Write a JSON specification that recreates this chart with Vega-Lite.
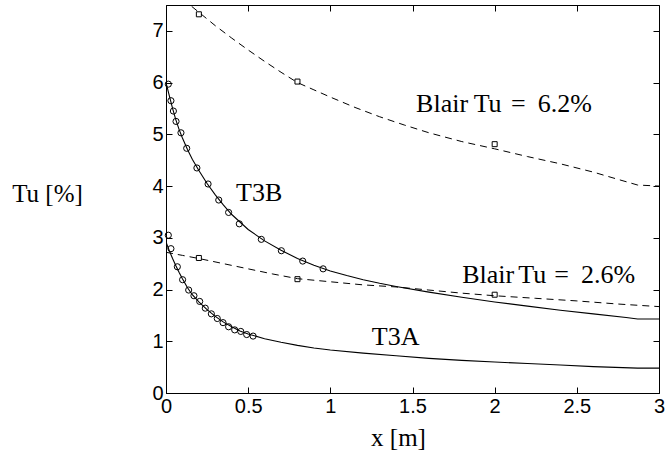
{
  "$schema": "https://vega.github.io/schema/vega-lite/v6.json",
  "width": 493,
  "height": 388,
  "autosize": "none",
  "padding": {"left": 166, "top": 5, "right": 6, "bottom": 77},
  "background": "white",
  "config": {
    "view": {"stroke": "black", "strokeWidth": 1},
    "axis": {"grid": false, "domainColor": "black", "tickColor": "black", "labelColor": "black", "titleColor": "black", "tickWidth": 1, "domainWidth": 1, "labelFont": "Liberation Sans", "labelFontSize": 20}
  },
  "datasets": {
    "curves": [
      {"series": "T3B", "x": 0, "y": 6.0}, {"series": "T3B", "x": 0.02, "y": 5.75}, {"series": "T3B", "x": 0.04, "y": 5.5}, {"series": "T3B", "x": 0.06, "y": 5.28}, {"series": "T3B", "x": 0.08, "y": 5.09}, {"series": "T3B", "x": 0.1, "y": 4.93}, {"series": "T3B", "x": 0.13, "y": 4.71}, {"series": "T3B", "x": 0.16, "y": 4.52}, {"series": "T3B", "x": 0.2, "y": 4.3}, {"series": "T3B", "x": 0.25, "y": 4.05}, {"series": "T3B", "x": 0.3, "y": 3.83}, {"series": "T3B", "x": 0.35, "y": 3.63}, {"series": "T3B", "x": 0.4, "y": 3.45}, {"series": "T3B", "x": 0.5, "y": 3.16}, {"series": "T3B", "x": 0.6, "y": 2.94}, {"series": "T3B", "x": 0.7, "y": 2.76}, {"series": "T3B", "x": 0.8, "y": 2.6}, {"series": "T3B", "x": 0.9, "y": 2.47}, {"series": "T3B", "x": 1.0, "y": 2.36}, {"series": "T3B", "x": 1.1, "y": 2.27}, {"series": "T3B", "x": 1.2, "y": 2.19}, {"series": "T3B", "x": 1.3, "y": 2.12}, {"series": "T3B", "x": 1.4, "y": 2.06}, {"series": "T3B", "x": 1.6, "y": 1.95}, {"series": "T3B", "x": 1.8, "y": 1.85}, {"series": "T3B", "x": 2.0, "y": 1.76}, {"series": "T3B", "x": 2.2, "y": 1.68}, {"series": "T3B", "x": 2.4, "y": 1.6}, {"series": "T3B", "x": 2.6, "y": 1.53}, {"series": "T3B", "x": 2.8, "y": 1.46}, {"series": "T3B", "x": 2.87, "y": 1.43}, {"series": "T3B", "x": 3.0, "y": 1.43},
      {"series": "T3A", "x": 0, "y": 2.92}, {"series": "T3A", "x": 0.02, "y": 2.75}, {"series": "T3A", "x": 0.04, "y": 2.6}, {"series": "T3A", "x": 0.06, "y": 2.46}, {"series": "T3A", "x": 0.08, "y": 2.33}, {"series": "T3A", "x": 0.1, "y": 2.21}, {"series": "T3A", "x": 0.13, "y": 2.04}, {"series": "T3A", "x": 0.16, "y": 1.9}, {"series": "T3A", "x": 0.2, "y": 1.76}, {"series": "T3A", "x": 0.25, "y": 1.61}, {"series": "T3A", "x": 0.3, "y": 1.48}, {"series": "T3A", "x": 0.35, "y": 1.37}, {"series": "T3A", "x": 0.4, "y": 1.28}, {"series": "T3A", "x": 0.45, "y": 1.2}, {"series": "T3A", "x": 0.5, "y": 1.14}, {"series": "T3A", "x": 0.6, "y": 1.05}, {"series": "T3A", "x": 0.7, "y": 0.98}, {"series": "T3A", "x": 0.8, "y": 0.92}, {"series": "T3A", "x": 0.9, "y": 0.87}, {"series": "T3A", "x": 1.0, "y": 0.83}, {"series": "T3A", "x": 1.2, "y": 0.77}, {"series": "T3A", "x": 1.4, "y": 0.72}, {"series": "T3A", "x": 1.6, "y": 0.67}, {"series": "T3A", "x": 1.8, "y": 0.63}, {"series": "T3A", "x": 2.0, "y": 0.6}, {"series": "T3A", "x": 2.2, "y": 0.57}, {"series": "T3A", "x": 2.4, "y": 0.54}, {"series": "T3A", "x": 2.6, "y": 0.51}, {"series": "T3A", "x": 2.87, "y": 0.48}, {"series": "T3A", "x": 3.0, "y": 0.48}
    ],
    "blair": [
      {"series": "B62", "x": 0.1, "y": 7.62}, {"series": "B62", "x": 0.146, "y": 7.5}, {"series": "B62", "x": 0.2, "y": 7.36}, {"series": "B62", "x": 0.3, "y": 7.1}, {"series": "B62", "x": 0.4, "y": 6.86}, {"series": "B62", "x": 0.5, "y": 6.63}, {"series": "B62", "x": 0.6, "y": 6.41}, {"series": "B62", "x": 0.7, "y": 6.2}, {"series": "B62", "x": 0.8, "y": 6.0}, {"series": "B62", "x": 0.9, "y": 5.86}, {"series": "B62", "x": 1.0, "y": 5.72}, {"series": "B62", "x": 1.15, "y": 5.52}, {"series": "B62", "x": 1.3, "y": 5.34}, {"series": "B62", "x": 1.45, "y": 5.18}, {"series": "B62", "x": 1.6, "y": 5.03}, {"series": "B62", "x": 1.8, "y": 4.86}, {"series": "B62", "x": 2.0, "y": 4.72}, {"series": "B62", "x": 2.2, "y": 4.57}, {"series": "B62", "x": 2.4, "y": 4.43}, {"series": "B62", "x": 2.6, "y": 4.27}, {"series": "B62", "x": 2.75, "y": 4.13}, {"series": "B62", "x": 2.87, "y": 4.02}, {"series": "B62", "x": 3.0, "y": 4.0},
      {"series": "B26", "x": 0.0, "y": 2.72}, {"series": "B26", "x": 0.1, "y": 2.66}, {"series": "B26", "x": 0.2, "y": 2.6}, {"series": "B26", "x": 0.35, "y": 2.5}, {"series": "B26", "x": 0.5, "y": 2.4}, {"series": "B26", "x": 0.65, "y": 2.3}, {"series": "B26", "x": 0.8, "y": 2.21}, {"series": "B26", "x": 1.0, "y": 2.15}, {"series": "B26", "x": 1.2, "y": 2.09}, {"series": "B26", "x": 1.4, "y": 2.05}, {"series": "B26", "x": 1.6, "y": 1.99}, {"series": "B26", "x": 1.8, "y": 1.93}, {"series": "B26", "x": 2.0, "y": 1.88}, {"series": "B26", "x": 2.25, "y": 1.83}, {"series": "B26", "x": 2.5, "y": 1.78}, {"series": "B26", "x": 2.75, "y": 1.72}, {"series": "B26", "x": 3.0, "y": 1.67}
    ],
    "circles": [
      {"series": "T3B", "x": 0.014, "y": 5.97}, {"series": "T3B", "x": 0.03, "y": 5.65}, {"series": "T3B", "x": 0.045, "y": 5.45}, {"series": "T3B", "x": 0.061, "y": 5.25}, {"series": "T3B", "x": 0.091, "y": 5.03}, {"series": "T3B", "x": 0.126, "y": 4.73}, {"series": "T3B", "x": 0.188, "y": 4.35}, {"series": "T3B", "x": 0.256, "y": 4.04}, {"series": "T3B", "x": 0.321, "y": 3.73}, {"series": "T3B", "x": 0.381, "y": 3.49}, {"series": "T3B", "x": 0.446, "y": 3.27}, {"series": "T3B", "x": 0.58, "y": 2.97}, {"series": "T3B", "x": 0.702, "y": 2.75}, {"series": "T3B", "x": 0.832, "y": 2.55}, {"series": "T3B", "x": 0.956, "y": 2.4},
      {"series": "T3A", "x": 0.014, "y": 3.05}, {"series": "T3A", "x": 0.03, "y": 2.79}, {"series": "T3A", "x": 0.069, "y": 2.44}, {"series": "T3A", "x": 0.101, "y": 2.19}, {"series": "T3A", "x": 0.138, "y": 1.99}, {"series": "T3A", "x": 0.17, "y": 1.88}, {"series": "T3A", "x": 0.205, "y": 1.77}, {"series": "T3A", "x": 0.239, "y": 1.64}, {"series": "T3A", "x": 0.276, "y": 1.53}, {"series": "T3A", "x": 0.312, "y": 1.44}, {"series": "T3A", "x": 0.347, "y": 1.36}, {"series": "T3A", "x": 0.381, "y": 1.28}, {"series": "T3A", "x": 0.418, "y": 1.22}, {"series": "T3A", "x": 0.455, "y": 1.19}, {"series": "T3A", "x": 0.491, "y": 1.13}, {"series": "T3A", "x": 0.53, "y": 1.1}
    ],
    "squares": [
      {"series": "B62", "x": 0.2, "y": 7.32}, {"series": "B62", "x": 0.8, "y": 6.02}, {"series": "B62", "x": 2.0, "y": 4.81},
      {"series": "B26", "x": 0.2, "y": 2.61}, {"series": "B26", "x": 0.8, "y": 2.2}, {"series": "B26", "x": 2.0, "y": 1.9}
    ],
    "labels": [
      {"text": "T3B", "x": 0.426, "y": 3.72},
      {"text": "T3A", "x": 1.252, "y": 0.928},
      {"text": "Blair", "x": 1.522, "y": 5.441},
      {"text": "Tu", "x": 1.872, "y": 5.441},
      {"text": "=", "x": 2.1, "y": 5.441},
      {"text": "6.2%", "x": 2.262, "y": 5.441},
      {"text": "Blair", "x": 1.802, "y": 2.122},
      {"text": "Tu", "x": 2.144, "y": 2.122},
      {"text": "=", "x": 2.362, "y": 2.122},
      {"text": "2.6%", "x": 2.525, "y": 2.122}
    ]
  },
  "layer": [
    {
      "encoding": {
        "x": {
          "field": "x", "type": "quantitative",
          "scale": {"domain": [0, 3], "nice": false, "zero": false},
          "axis": {
            "values": [0, 0.5, 1, 1.5, 2, 2.5, 3], "format": "~g",
            "tickSize": -6, "labelPadding": 9, "labelFlush": false,
            "title": "x [m]", "titleFont": "Liberation Serif", "titleFontStyle": "normal", "titleFontWeight": "normal", "titleFontSize": 25,
            "titleX": 232, "titleY": 52, "titleAlign": "center", "titleBaseline": "alphabetic"
          }
        },
        "y": {
          "field": "y", "type": "quantitative",
          "scale": {"domain": [0, 7.5], "nice": false, "zero": false},
          "axis": {
            "values": [0, 1, 2, 3, 4, 5, 6, 7], "format": "d",
            "tickSize": -6, "labelPadding": 9, "labelFlush": false,
            "title": "Tu [%]", "titleFont": "Liberation Serif", "titleFontStyle": "normal", "titleFontWeight": "normal", "titleFontSize": 25,
            "titleAngle": 0, "titleX": -119, "titleY": 196, "titleAlign": "center", "titleBaseline": "alphabetic"
          }
        }
      },
      "layer": [
        {
          "data": {"name": "curves"},
          "mark": {"type": "line", "stroke": "black", "strokeWidth": 1.1, "clip": true},
          "encoding": {"detail": {"field": "series"}}
        },
        {
          "data": {"name": "blair"},
          "mark": {"type": "line", "stroke": "black", "strokeWidth": 1, "strokeDash": [7, 5], "clip": true},
          "encoding": {"detail": {"field": "series"}}
        },
        {
          "data": {"name": "circles"},
          "mark": {"type": "point", "shape": "circle", "filled": false, "stroke": "black", "strokeWidth": 1, "size": 38, "opacity": 1}
        },
        {
          "data": {"name": "squares"},
          "mark": {"type": "point", "shape": "square", "filled": false, "stroke": "black", "strokeWidth": 1, "size": 25, "opacity": 1}
        },
        {
          "data": {"name": "labels"},
          "mark": {"type": "text", "font": "Liberation Serif", "fontSize": 26, "align": "left", "baseline": "alphabetic", "color": "black"},
          "encoding": {"text": {"field": "text"}}
        }
      ]
    },
    {
      "data": {"name": "squares"},
      "mark": {"type": "point", "opacity": 0},
      "encoding": {
        "x": {
          "field": "x", "type": "quantitative",
          "axis": {"orient": "top", "values": [0, 0.5, 1, 1.5, 2, 2.5, 3], "labels": false, "tickSize": -6, "title": null, "domain": false}
        },
        "y": {
          "field": "y", "type": "quantitative",
          "axis": {"orient": "right", "values": [0, 1, 2, 3, 4, 5, 6, 7], "labels": false, "tickSize": -6, "title": null, "domain": false}
        }
      }
    }
  ],
  "resolve": {"axis": {"x": "independent", "y": "independent"}}
}
